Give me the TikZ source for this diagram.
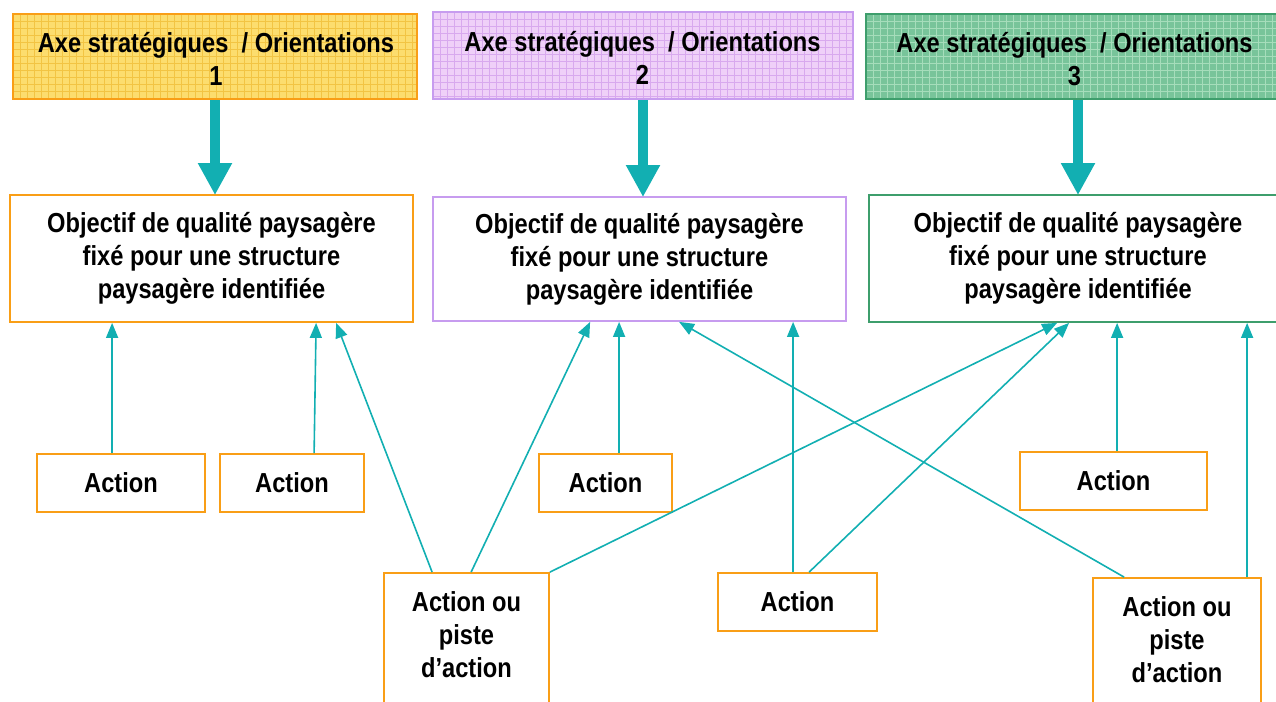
\documentclass[tikz,border=0pt]{standalone}
\usepackage{fontspec}
\setmainfont[FakeStretch=0.86]{Liberation Sans}
\usetikzlibrary{arrows.meta,calc}
\definecolor{orB}{HTML}{F99E16}
\definecolor{puB}{HTML}{C79CEF}
\definecolor{grB}{HTML}{3E9E6C}
\definecolor{teal}{HTML}{12AFB2}
\definecolor{yeF}{HTML}{FCDD6E}
\definecolor{yeL}{HTML}{F2C443}
\definecolor{puF}{HTML}{EFD0F8}
\definecolor{puL}{HTML}{D8A9EE}
\definecolor{grF}{HTML}{78C49A}
\definecolor{grL}{HTML}{A6DDBB}
\tikzset{
  txt/.style={font=\fontsize{27.5}{33}\selectfont\bfseries, align=center},
  hbox/.style={draw, line width=2pt, inner sep=0pt},
  obox/.style={draw, line width=1.8pt, inner sep=0pt, fill=white, txt},
  abox/.style={draw=orB, line width=1.8pt, inner sep=0pt, fill=white, txt},
  big/.style={draw=teal, line width=10pt, -{Triangle[width=32pt,length=32pt]}, shorten >=-1pt},
  thin/.style={draw=teal, line width=1.6pt, -{Triangle[width=12pt,length=15pt]}},
}
\begin{document}
\begin{tikzpicture}[x=1pt,y=-1pt]
\useasboundingbox (0,0) rectangle (1276,701);
\clip (0,0) rectangle (1276,701);
% header fills with grid pattern
\foreach \xa/\xb/\ya/\yb/\f/\l in {13/417/14/99/yeF/yeL, 433/853/12/99/puF/puL, 866/1290/14/99/grF/grL}{
  \begin{scope}
    \clip (\xa,\ya) rectangle (\xb,\yb);
    \fill[\f] (\xa,\ya) rectangle (\xb,\yb);
    \foreach \gx in {0,7,...,430} \draw[\l, line width=0.9pt] (\xa+\gx,\ya) -- (\xa+\gx,\yb);
    \foreach \gy in {0,7,...,90} \draw[\l, line width=0.9pt] (\xa,\ya+\gy) -- (\xb,\ya+\gy);
  \end{scope}
}
% headers
\node[hbox, draw=orB, minimum width=404pt, minimum height=85pt] (H1) at (215,56.5) {};
\node[hbox, draw=puB, minimum width=420pt, minimum height=87pt] (H2) at (643,55.5) {};
\node[hbox, draw=grB, minimum width=418pt, minimum height=85pt] (H3) at (1075,56.5) {};
\node[txt] (H1t) at (216,59) {Axe stratégiques~~/ Orientations\\1};
\node[txt] (H2t) at (642.5,58) {Axe stratégiques~~/ Orientations\\2};
\node[txt] (H3t) at (1074.5,59) {Axe stratégiques~~/ Orientations\\3};
% objectives
\node[obox, draw=orB, minimum width=403pt, minimum height=127pt] (O1) at (211.5,258.5) {Objectif de qualité paysagère\\fixé pour une structure\\paysagère identifiée};
\node[obox, draw=puB, minimum width=413pt, minimum height=124pt] (O2) at (639.5,259) {Objectif de qualité paysagère\\fixé pour une structure\\paysagère identifiée};
\node[obox, draw=grB, minimum width=418pt, minimum height=127pt] (O3) at (1078,258.5) {Objectif de qualité paysagère\\fixé pour une structure\\paysagère identifiée};
% thick arrows
\draw[big] (H1.south -| 215,0) -- (O1.north -| 215,0);
\draw[big] (H2.south -| 643,0) -- (O2.north -| 643,0);
\draw[big] (H3.south -| 1078,0) -- (O3.north -| 1078,0);
% actions
\node[abox, minimum width=168pt, minimum height=58pt] (A1) at (121,483) {Action};
\node[abox, minimum width=144pt, minimum height=58pt] (A2) at (292,483) {Action};
\node[abox, minimum width=133pt, minimum height=58pt] (A3) at (605.5,483) {Action};
\node[abox, minimum width=187pt, minimum height=58pt] (A4) at (1113.5,481) {Action};
\node[abox, minimum width=159pt, minimum height=58pt] (A5) at (797.5,602) {Action};
\node[abox, minimum width=165pt, minimum height=160pt] (B1) at (466.5,653) {};
\node[txt] (B1t) at (466.5,635) {Action ou\\piste\\d’action};
\node[abox, minimum width=168pt, minimum height=160pt] (B2) at (1177,658) {};
\node[txt] (B2t) at (1177,640) {Action ou\\piste\\d’action};
% connectors
\draw[thin] ($(A1.north west)+(76,0)$) -- ($(O1.south west)+(103,0)$);
\draw[thin] ($(A2.north west)+(95,0)$) -- ($(O1.south west)+(307,0)$);
\draw[thin] ($(B1.north west)+(49,0)$) -- ($(O1.south west)+(327,0)$);
\draw[thin] ($(B1.north west)+(88,0)$) -- ($(O2.south west)+(158,0)$);
\draw[thin] ($(A3.north west)+(81,0)$) -- ($(O2.south west)+(187,0)$);
\draw[thin] (B1.north east) -- ($(O3.south west)+(189,0)$);
\draw[thin] ($(A5.north west)+(76,0)$) -- ($(O2.south west)+(361,0)$);
\draw[thin] ($(A5.north west)+(92,0)$) -- ($(O3.south west)+(201,0)$);
\draw[thin] ($(B2.north west)+(32,0)$) -- ($(O2.south west)+(247,0)$);
\draw[thin] ($(A4.north west)+(98,0)$) -- ($(O3.south west)+(249,0)$);
\draw[thin] ($(B2.north west)+(155,0)$) -- ($(O3.south west)+(379,0)$);
\end{tikzpicture}
\end{document}
